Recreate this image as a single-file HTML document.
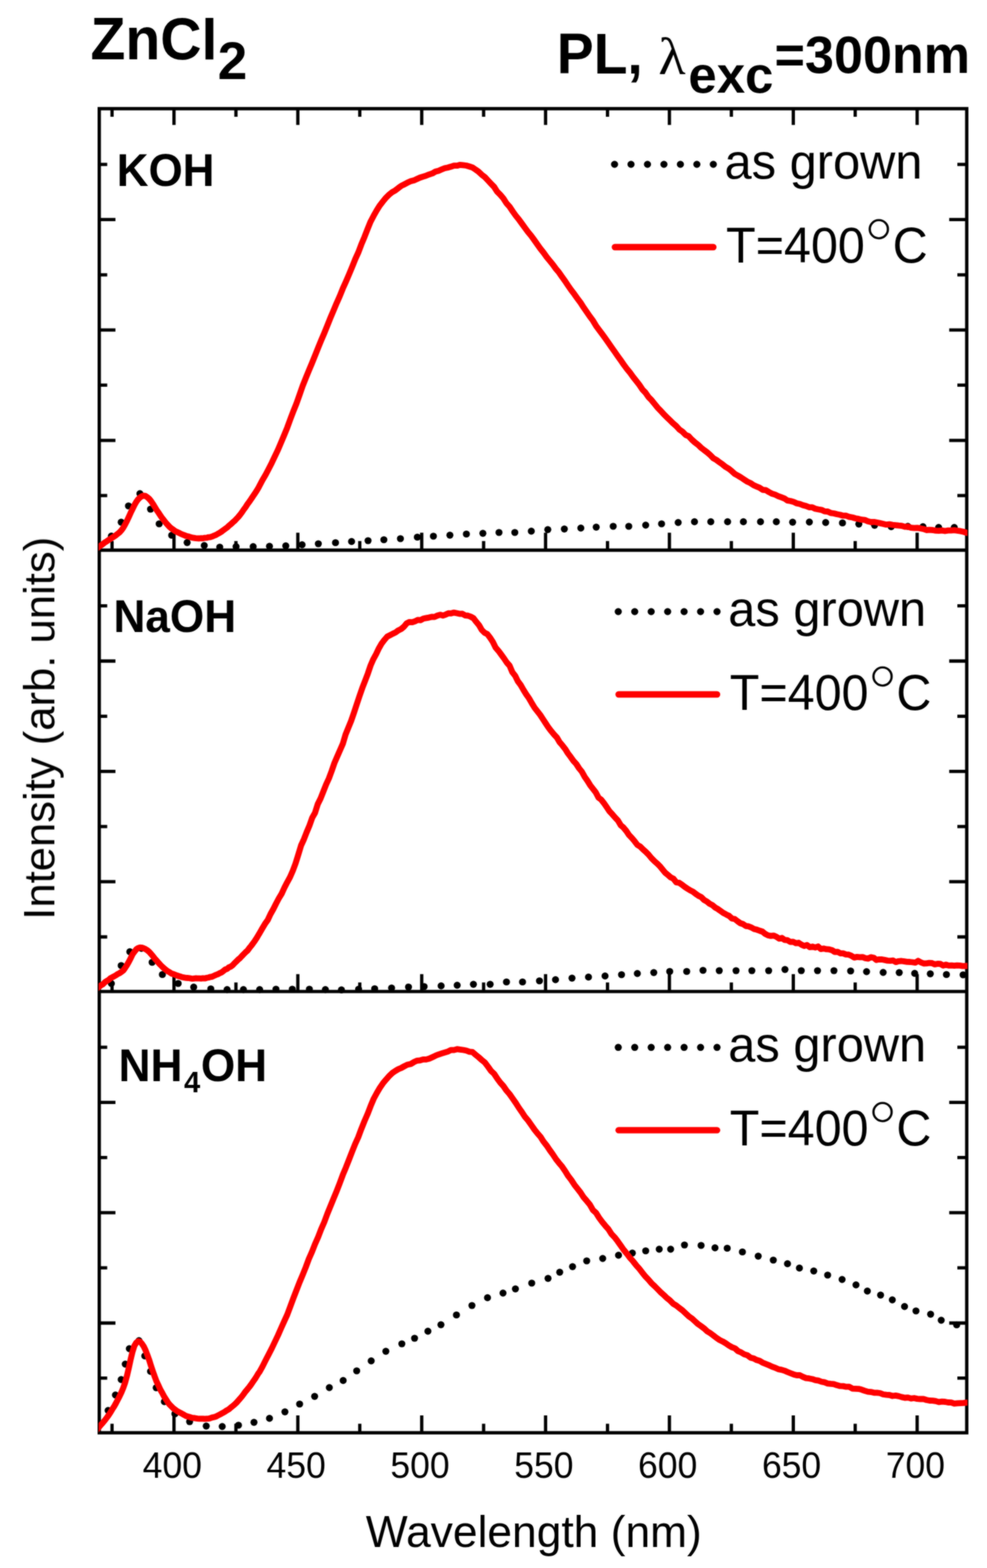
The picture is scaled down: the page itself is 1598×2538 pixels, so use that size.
<!DOCTYPE html>
<html lang="en">
<head>
<meta charset="utf-8">
<title>ZnCl2 PL spectra</title>
<style>
html,body{margin:0;padding:0;background:#fff;}
body{width:1598px;height:2538px;overflow:hidden;}
svg{display:block;}
text{white-space:pre;}
</style>
</head>
<body>
<svg width="1598" height="2538" viewBox="0 0 1598 2538">
<defs><filter id="soft" x="0" y="0" width="1598" height="2538" filterUnits="userSpaceOnUse" color-interpolation-filters="sRGB"><feGaussianBlur stdDeviation="0.8" result="b"/><feComposite in="b" in2="SourceGraphic" operator="arithmetic" k1="0" k2="0.6" k3="0.4" k4="0"/></filter></defs>
<rect width="1598" height="2538" fill="#fff"/>
<g filter="url(#soft)">
<g stroke="#000" stroke-width="5.4" fill="none">
<rect x="160.7" y="175.9" width="1404.5" height="2143.2"/>
<line x1="160.7" y1="890.5" x2="1565.2" y2="890.5"/>
<line x1="160.7" y1="1604.9" x2="1565.2" y2="1604.9"/>
</g>
<path d="M181.4 175.9v13.0M181.4 890.5v-14.7M181.4 1604.9v-14.7M181.4 2319.1v-14.7M281.7 175.9v26.4M281.7 890.5v-28.2M281.7 1604.9v-28.2M281.7 2319.1v-28.2M382.0 175.9v13.0M382.0 890.5v-14.7M382.0 1604.9v-14.7M382.0 2319.1v-14.7M482.2 175.9v26.4M482.2 890.5v-28.2M482.2 1604.9v-28.2M482.2 2319.1v-28.2M582.5 175.9v13.0M582.5 890.5v-14.7M582.5 1604.9v-14.7M582.5 2319.1v-14.7M682.8 175.9v26.4M682.8 890.5v-28.2M682.8 1604.9v-28.2M682.8 2319.1v-28.2M783.0 175.9v13.0M783.0 890.5v-14.7M783.0 1604.9v-14.7M783.0 2319.1v-14.7M883.3 175.9v26.4M883.3 890.5v-28.2M883.3 1604.9v-28.2M883.3 2319.1v-28.2M983.6 175.9v13.0M983.6 890.5v-14.7M983.6 1604.9v-14.7M983.6 2319.1v-14.7M1083.8 175.9v26.4M1083.8 890.5v-28.2M1083.8 1604.9v-28.2M1083.8 2319.1v-28.2M1184.1 175.9v13.0M1184.1 890.5v-14.7M1184.1 1604.9v-14.7M1184.1 2319.1v-14.7M1284.4 175.9v26.4M1284.4 890.5v-28.2M1284.4 1604.9v-28.2M1284.4 2319.1v-28.2M1384.6 175.9v13.0M1384.6 890.5v-14.7M1384.6 1604.9v-14.7M1384.6 2319.1v-14.7M1484.9 175.9v26.4M1484.9 890.5v-28.2M1484.9 1604.9v-28.2M1484.9 2319.1v-28.2M160.7 802.1h12.9M1565.2 802.1h-15.2M160.7 712.8h26.2M1565.2 712.8h-28.4M160.7 623.4h12.9M1565.2 623.4h-15.2M160.7 534.1h26.2M1565.2 534.1h-28.4M160.7 444.8h12.9M1565.2 444.8h-15.2M160.7 355.4h26.2M1565.2 355.4h-28.4M160.7 266.1h12.9M1565.2 266.1h-15.2M160.7 1516.5h12.9M1565.2 1516.5h-15.2M160.7 1427.2h26.2M1565.2 1427.2h-28.4M160.7 1337.9h12.9M1565.2 1337.9h-15.2M160.7 1248.6h26.2M1565.2 1248.6h-28.4M160.7 1159.3h12.9M1565.2 1159.3h-15.2M160.7 1070.0h26.2M1565.2 1070.0h-28.4M160.7 980.7h12.9M1565.2 980.7h-15.2M160.7 2230.7h12.9M1565.2 2230.7h-15.2M160.7 2141.5h26.2M1565.2 2141.5h-28.4M160.7 2052.2h12.9M1565.2 2052.2h-15.2M160.7 1962.9h26.2M1565.2 1962.9h-28.4M160.7 1873.6h12.9M1565.2 1873.6h-15.2M160.7 1784.4h26.2M1565.2 1784.4h-28.4M160.7 1695.1h12.9M1565.2 1695.1h-15.2" stroke="#000" stroke-width="5.3" fill="none"/>
<clipPath id="plotclip"><rect x="159.6" y="175.9" width="1406.8000000000002" height="2143.2"/></clipPath>
<g clip-path="url(#plotclip)">
<g fill="#000">
<circle cx="180.3" cy="867.7" r="5.7"/>
<circle cx="196.2" cy="845.3" r="5.7"/>
<circle cx="208.0" cy="818.9" r="5.7"/>
<circle cx="226.5" cy="799.0" r="5.7"/>
<circle cx="243.7" cy="824.1" r="5.7"/>
<circle cx="257.7" cy="847.9" r="5.7"/>
<circle cx="278.0" cy="866.4" r="5.7"/>
<circle cx="303.0" cy="878.2" r="5.7"/>
<circle cx="330.7" cy="883.0" r="5.7"/>
<circle cx="355.8" cy="885.6" r="5.7"/>
<circle cx="382.2" cy="884.8" r="5.7"/>
<circle cx="409.9" cy="884.8" r="5.7"/>
<circle cx="436.3" cy="884.3" r="5.7"/>
<circle cx="462.7" cy="883.5" r="5.7"/>
<circle cx="489.1" cy="881.7" r="5.7"/>
<circle cx="515.4" cy="880.1" r="5.7"/>
<circle cx="543.2" cy="878.4" r="5.7"/>
<circle cx="569.2" cy="876.5" r="5.7"/>
<circle cx="595.9" cy="875.1" r="5.7"/>
<circle cx="621.5" cy="873.6" r="5.7"/>
<circle cx="648.3" cy="871.9" r="5.7"/>
<circle cx="675.7" cy="869.4" r="5.7"/>
<circle cx="701.7" cy="867.9" r="5.7"/>
<circle cx="728.4" cy="866.2" r="5.7"/>
<circle cx="755.1" cy="864.4" r="5.7"/>
<circle cx="781.8" cy="863.3" r="5.7"/>
<circle cx="807.9" cy="861.9" r="5.7"/>
<circle cx="833.5" cy="861.9" r="5.7"/>
<circle cx="860.2" cy="859.8" r="5.7"/>
<circle cx="886.9" cy="857.3" r="5.7"/>
<circle cx="913.7" cy="856.2" r="5.7"/>
<circle cx="940.4" cy="854.8" r="5.7"/>
<circle cx="965.3" cy="853.3" r="5.7"/>
<circle cx="992.8" cy="851.9" r="5.7"/>
<circle cx="1018.0" cy="851.9" r="5.7"/>
<circle cx="1045.4" cy="850.0" r="5.7"/>
<circle cx="1071.1" cy="847.9" r="5.7"/>
<circle cx="1098.0" cy="845.8" r="5.7"/>
<circle cx="1124.4" cy="844.5" r="5.7"/>
<circle cx="1150.8" cy="844.5" r="5.7"/>
<circle cx="1178.0" cy="844.5" r="5.7"/>
<circle cx="1203.6" cy="844.5" r="5.7"/>
<circle cx="1231.3" cy="844.5" r="5.7"/>
<circle cx="1256.9" cy="844.5" r="5.7"/>
<circle cx="1283.3" cy="845.3" r="5.7"/>
<circle cx="1310.4" cy="845.0" r="5.7"/>
<circle cx="1336.8" cy="845.8" r="5.7"/>
<circle cx="1364.0" cy="846.4" r="5.7"/>
<circle cx="1390.5" cy="848.2" r="5.7"/>
<circle cx="1416.0" cy="850.3" r="5.7"/>
<circle cx="1442.9" cy="852.5" r="5.7"/>
<circle cx="1469.8" cy="852.0" r="5.7"/>
<circle cx="1494.3" cy="852.5" r="5.7"/>
<circle cx="1519.7" cy="853.8" r="5.7"/>
<circle cx="1545.0" cy="853.8" r="5.7"/>
<circle cx="180.3" cy="1592.0" r="5.7"/>
<circle cx="196.2" cy="1562.9" r="5.7"/>
<circle cx="210.2" cy="1540.5" r="5.7"/>
<circle cx="229.0" cy="1535.0" r="5.7"/>
<circle cx="246.3" cy="1557.6" r="5.7"/>
<circle cx="262.9" cy="1577.4" r="5.7"/>
<circle cx="288.5" cy="1591.9" r="5.7"/>
<circle cx="313.6" cy="1597.7" r="5.7"/>
<circle cx="341.3" cy="1600.6" r="5.7"/>
<circle cx="367.7" cy="1601.7" r="5.7"/>
<circle cx="394.1" cy="1601.7" r="5.7"/>
<circle cx="420.4" cy="1601.7" r="5.7"/>
<circle cx="446.8" cy="1601.1" r="5.7"/>
<circle cx="473.2" cy="1601.1" r="5.7"/>
<circle cx="500.9" cy="1601.1" r="5.7"/>
<circle cx="526.8" cy="1601.8" r="5.7"/>
<circle cx="552.8" cy="1602.2" r="5.7"/>
<circle cx="580.6" cy="1601.1" r="5.7"/>
<circle cx="606.6" cy="1600.4" r="5.7"/>
<circle cx="634.0" cy="1599.3" r="5.7"/>
<circle cx="661.4" cy="1597.6" r="5.7"/>
<circle cx="686.7" cy="1596.9" r="5.7"/>
<circle cx="714.2" cy="1595.8" r="5.7"/>
<circle cx="740.2" cy="1594.7" r="5.7"/>
<circle cx="766.5" cy="1593.3" r="5.7"/>
<circle cx="793.6" cy="1593.3" r="5.7"/>
<circle cx="820.0" cy="1589.4" r="5.7"/>
<circle cx="846.0" cy="1589.4" r="5.7"/>
<circle cx="873.4" cy="1587.6" r="5.7"/>
<circle cx="899.4" cy="1585.8" r="5.7"/>
<circle cx="926.1" cy="1583.3" r="5.7"/>
<circle cx="952.8" cy="1581.5" r="5.7"/>
<circle cx="979.6" cy="1579.8" r="5.7"/>
<circle cx="1006.3" cy="1577.6" r="5.7"/>
<circle cx="1031.9" cy="1575.8" r="5.7"/>
<circle cx="1058.5" cy="1574.3" r="5.7"/>
<circle cx="1084.3" cy="1572.4" r="5.7"/>
<circle cx="1111.8" cy="1572.4" r="5.7"/>
<circle cx="1138.2" cy="1570.6" r="5.7"/>
<circle cx="1164.5" cy="1571.1" r="5.7"/>
<circle cx="1191.7" cy="1571.1" r="5.7"/>
<circle cx="1217.3" cy="1571.1" r="5.7"/>
<circle cx="1244.5" cy="1571.1" r="5.7"/>
<circle cx="1270.9" cy="1569.2" r="5.7"/>
<circle cx="1297.3" cy="1571.1" r="5.7"/>
<circle cx="1323.6" cy="1571.1" r="5.7"/>
<circle cx="1350.2" cy="1571.1" r="5.7"/>
<circle cx="1377.2" cy="1571.6" r="5.7"/>
<circle cx="1403.0" cy="1572.7" r="5.7"/>
<circle cx="1429.9" cy="1574.0" r="5.7"/>
<circle cx="1455.9" cy="1574.2" r="5.7"/>
<circle cx="1480.9" cy="1575.5" r="5.7"/>
<circle cx="1506.2" cy="1576.3" r="5.7"/>
<circle cx="1532.3" cy="1577.4" r="5.7"/>
<circle cx="1559.3" cy="1577.9" r="5.7"/>
<circle cx="175.0" cy="2283.0" r="5.7"/>
<circle cx="186.9" cy="2258.0" r="5.7"/>
<circle cx="196.2" cy="2233.0" r="5.7"/>
<circle cx="202.8" cy="2208.0" r="5.7"/>
<circle cx="209.4" cy="2183.0" r="5.7"/>
<circle cx="225.0" cy="2170.0" r="5.7"/>
<circle cx="234.4" cy="2194.8" r="5.7"/>
<circle cx="243.7" cy="2219.8" r="5.7"/>
<circle cx="252.9" cy="2246.2" r="5.7"/>
<circle cx="266.1" cy="2268.7" r="5.7"/>
<circle cx="283.2" cy="2288.4" r="5.7"/>
<circle cx="307.0" cy="2301.1" r="5.7"/>
<circle cx="333.9" cy="2308.2" r="5.7"/>
<circle cx="359.8" cy="2309.0" r="5.7"/>
<circle cx="386.1" cy="2306.9" r="5.7"/>
<circle cx="411.2" cy="2302.2" r="5.7"/>
<circle cx="436.3" cy="2295.8" r="5.7"/>
<circle cx="461.3" cy="2285.3" r="5.7"/>
<circle cx="485.1" cy="2272.6" r="5.7"/>
<circle cx="509.4" cy="2260.2" r="5.7"/>
<circle cx="533.2" cy="2246.0" r="5.7"/>
<circle cx="555.6" cy="2234.5" r="5.7"/>
<circle cx="577.5" cy="2218.9" r="5.7"/>
<circle cx="601.0" cy="2202.8" r="5.7"/>
<circle cx="624.7" cy="2187.2" r="5.7"/>
<circle cx="650.6" cy="2175.1" r="5.7"/>
<circle cx="671.2" cy="2166.1" r="5.7"/>
<circle cx="692.8" cy="2154.8" r="5.7"/>
<circle cx="713.9" cy="2144.2" r="5.7"/>
<circle cx="739.0" cy="2128.4" r="5.7"/>
<circle cx="764.1" cy="2113.1" r="5.7"/>
<circle cx="789.3" cy="2100.5" r="5.7"/>
<circle cx="814.4" cy="2093.0" r="5.7"/>
<circle cx="834.5" cy="2086.2" r="5.7"/>
<circle cx="860.9" cy="2076.9" r="5.7"/>
<circle cx="887.3" cy="2069.2" r="5.7"/>
<circle cx="906.2" cy="2059.2" r="5.7"/>
<circle cx="927.0" cy="2050.2" r="5.7"/>
<circle cx="949.9" cy="2040.9" r="5.7"/>
<circle cx="975.8" cy="2037.0" r="5.7"/>
<circle cx="1001.4" cy="2031.7" r="5.7"/>
<circle cx="1023.8" cy="2028.3" r="5.7"/>
<circle cx="1045.4" cy="2024.6" r="5.7"/>
<circle cx="1067.3" cy="2022.0" r="5.7"/>
<circle cx="1085.8" cy="2022.0" r="5.7"/>
<circle cx="1108.2" cy="2015.1" r="5.7"/>
<circle cx="1135.1" cy="2015.9" r="5.7"/>
<circle cx="1157.6" cy="2019.8" r="5.7"/>
<circle cx="1177.4" cy="2020.4" r="5.7"/>
<circle cx="1202.0" cy="2026.4" r="5.7"/>
<circle cx="1227.6" cy="2033.3" r="5.7"/>
<circle cx="1252.0" cy="2039.6" r="5.7"/>
<circle cx="1275.0" cy="2045.5" r="5.7"/>
<circle cx="1294.3" cy="2052.5" r="5.7"/>
<circle cx="1317.5" cy="2057.3" r="5.7"/>
<circle cx="1340.0" cy="2063.9" r="5.7"/>
<circle cx="1363.4" cy="2071.0" r="5.7"/>
<circle cx="1385.9" cy="2079.7" r="5.7"/>
<circle cx="1404.3" cy="2089.7" r="5.7"/>
<circle cx="1425.7" cy="2096.3" r="5.7"/>
<circle cx="1444.7" cy="2104.0" r="5.7"/>
<circle cx="1464.5" cy="2114.8" r="5.7"/>
<circle cx="1483.0" cy="2121.9" r="5.7"/>
<circle cx="1506.7" cy="2127.2" r="5.7"/>
<circle cx="1523.9" cy="2137.0" r="5.7"/>
<circle cx="1548.9" cy="2144.4" r="5.7"/>
</g>
<g fill="none" stroke="#ff0000" stroke-width="9.8" stroke-linejoin="round" stroke-linecap="butt">
<path d="M154.6 889.1L160.6 884.8L163.6 882.7L166.6 880.5L169.6 878.2L172.6 876.3L175.6 874.2L178.6 872.3L181.6 870.3L184.6 868.5L187.6 866.4L190.6 864.0L193.6 861.6L196.6 858.3L199.6 854.2L202.6 848.9L205.6 843.0L208.6 836.6L211.6 829.9L214.6 823.8L217.6 817.6L220.6 812.3L223.6 808.2L226.6 805.3L229.6 803.2L232.6 802.3L235.6 802.9L238.6 804.8L241.6 807.5L244.6 811.1L247.6 815.6L250.6 820.5L253.6 825.5L256.6 829.8L259.6 834.4L262.6 838.7L265.6 842.4L268.6 846.3L271.6 849.6L274.6 852.9L277.6 855.3L280.6 857.3L283.6 859.6L286.6 861.1L289.6 862.4L292.6 864.0L295.6 865.2L298.6 866.4L301.6 867.6L304.6 868.2L307.6 869.3L310.6 870.1L313.6 870.6L316.6 871.1L319.6 871.3L322.6 871.5L325.6 871.1L328.6 871.3L331.6 870.6L334.6 870.4L337.6 869.6L340.6 869.3L343.6 868.4L346.6 867.0L349.6 865.9L352.6 864.1L355.6 862.4L358.6 860.5L361.6 858.2L364.6 856.1L367.6 853.9L370.6 851.0L373.6 848.6L376.6 845.8L379.6 843.3L382.6 840.2L385.6 837.0L388.6 833.4L391.6 829.4L394.6 824.9L397.6 820.9L400.6 816.2L403.6 812.1L406.6 807.8L409.6 803.2L412.6 798.9L415.6 794.3L418.6 789.3L420.0 786.6L425.0 776.9L430.0 768.5L435.0 759.0L440.0 749.2L445.0 738.6L450.0 728.2L455.0 716.3L460.0 704.5L465.0 692.3L470.0 678.6L475.0 665.5L480.0 653.1L485.0 639.0L490.0 624.6L495.0 612.1L500.0 599.8L505.0 588.0L510.0 575.6L515.0 563.2L520.0 550.9L525.0 539.2L530.0 526.8L535.0 514.4L540.0 502.6L545.0 490.7L550.0 479.5L555.0 467.1L560.0 456.0L565.0 444.4L570.0 432.4L575.0 419.9L580.0 408.9L585.0 395.7L590.0 383.8L595.0 370.9L600.0 358.7L605.0 349.2L610.0 340.3L615.0 332.4L620.0 326.0L625.0 319.9L630.0 315.0L635.0 311.0L640.0 308.2L645.0 304.3L650.0 300.6L655.0 298.3L660.0 295.4L665.0 293.3L670.0 292.1L675.0 289.8L680.0 287.5L685.0 285.9L690.0 284.3L695.0 282.3L700.0 280.7L705.0 277.7L710.0 276.4L715.0 274.3L720.0 272.3L725.0 271.2L730.0 269.8L735.0 268.1L740.0 268.2L745.0 266.8L750.0 267.4L755.0 268.0L760.0 269.5L765.0 271.2L770.0 274.5L775.0 278.1L780.0 282.8L785.0 286.6L790.0 292.0L795.0 297.3L800.0 302.5L805.0 310.3L810.0 315.3L815.0 321.1L820.0 329.0L825.0 334.5L830.0 342.0L835.0 349.0L840.0 355.1L845.0 362.0L850.0 368.8L855.0 375.7L860.0 381.7L865.0 388.5L870.0 395.6L875.0 402.6L880.0 408.9L885.0 415.9L890.0 422.0L895.0 428.1L900.0 435.0L905.0 440.9L910.0 448.2L915.0 455.1L920.0 462.6L925.0 469.8L930.0 476.3L935.0 483.3L940.0 490.0L945.0 497.8L950.0 505.1L955.0 512.3L960.0 518.9L965.0 527.3L970.0 534.1L975.0 540.7L980.0 547.6L985.0 554.8L990.0 562.0L995.0 569.0L1000.0 576.2L1005.0 583.2L1010.0 590.4L1015.0 597.1L1020.0 603.2L1025.0 610.1L1030.0 616.3L1035.0 622.7L1040.0 630.3L1045.0 635.5L1050.0 642.8L1055.0 647.8L1060.0 654.0L1065.0 660.1L1070.0 665.2L1075.0 670.8L1080.0 675.7L1085.0 680.5L1090.0 685.4L1095.0 689.8L1100.0 695.3L1105.0 698.8L1110.0 703.9L1115.0 706.1L1120.0 711.5L1125.0 716.0L1130.0 719.8L1135.0 724.6L1140.0 728.5L1145.0 732.2L1150.0 736.6L1155.0 741.7L1160.0 744.5L1165.0 748.3L1170.0 751.8L1175.0 755.8L1180.0 758.7L1185.0 762.8L1190.0 767.3L1195.0 770.0L1200.0 773.0L1205.0 776.3L1210.0 779.6L1215.0 781.9L1220.0 785.3L1225.0 787.5L1230.0 789.6L1235.0 792.8L1240.0 793.4L1245.0 796.5L1250.0 799.1L1255.0 800.7L1260.0 803.1L1265.0 804.9L1270.0 806.8L1275.0 810.2L1280.0 811.0L1285.0 812.4L1290.0 814.7L1295.0 815.7L1300.0 817.7L1305.0 819.0L1310.0 821.0L1315.0 821.1L1320.0 823.5L1325.0 824.5L1330.0 825.3L1335.0 827.6L1340.0 828.0L1345.0 830.3L1350.0 831.0L1355.0 832.3L1360.0 833.2L1365.0 834.7L1370.0 834.7L1375.0 836.7L1380.0 837.5L1385.0 839.0L1390.0 839.9L1395.0 841.2L1400.0 841.6L1405.0 843.8L1410.0 845.0L1415.0 844.8L1420.0 845.8L1425.0 846.9L1430.0 848.1L1435.0 849.2L1440.0 848.6L1445.0 849.6L1450.0 850.1L1455.0 850.7L1460.0 851.1L1465.0 852.6L1470.0 852.5L1475.0 854.2L1480.0 854.6L1485.0 854.4L1490.0 855.2L1495.0 856.2L1500.0 858.0L1505.0 857.7L1510.0 858.0L1515.0 858.9L1520.0 859.2L1525.0 858.6L1530.0 859.5L1535.0 858.7L1540.0 858.7L1545.0 858.2L1550.0 859.0L1555.0 859.7L1560.0 860.8L1564.8 862.3L1570.8 863.2"/>
<path d="M154.6 1601.8L160.6 1597.2L163.6 1594.7L166.6 1593.1L169.6 1590.1L172.6 1588.0L175.6 1586.3L178.6 1583.6L181.6 1581.9L184.6 1580.4L187.6 1578.6L190.6 1576.7L193.6 1575.2L196.6 1573.2L199.6 1570.9L202.6 1566.6L205.6 1562.0L208.6 1556.8L211.6 1551.0L214.6 1544.6L217.6 1540.6L220.6 1536.7L223.6 1534.7L226.6 1533.7L229.6 1533.8L232.6 1534.9L235.6 1536.3L238.6 1538.2L241.6 1540.8L244.6 1544.1L247.6 1547.7L250.6 1551.6L253.6 1554.8L256.6 1558.4L259.6 1561.6L262.6 1564.6L265.6 1567.4L268.6 1569.8L271.6 1572.2L274.6 1573.7L277.6 1575.8L280.6 1576.7L283.6 1577.8L286.6 1579.0L289.6 1580.0L292.6 1580.8L295.6 1581.8L298.6 1582.4L301.6 1582.8L304.6 1583.0L307.6 1583.4L310.6 1584.1L313.6 1583.9L316.6 1583.5L319.6 1583.7L322.6 1583.6L325.6 1583.9L328.6 1583.3L331.6 1583.7L334.6 1582.8L337.6 1582.2L340.6 1581.3L343.6 1580.8L346.6 1579.4L349.6 1578.0L352.6 1576.9L355.6 1575.2L358.6 1573.9L361.6 1571.8L364.6 1569.3L367.6 1568.4L370.6 1565.8L373.6 1564.6L376.6 1562.3L379.6 1559.2L382.6 1556.2L385.6 1553.2L388.6 1550.8L391.6 1547.5L394.6 1544.4L397.6 1541.3L400.6 1538.7L403.6 1534.7L406.6 1531.0L409.6 1527.0L412.6 1522.8L415.6 1518.3L418.6 1513.1L420.0 1510.9L424.5 1503.0L429.0 1495.4L433.5 1489.1L438.0 1479.5L442.5 1471.5L447.0 1462.5L451.5 1454.0L456.0 1446.6L460.5 1436.8L465.0 1428.1L469.5 1419.9L474.0 1409.6L478.5 1397.6L483.0 1383.2L487.5 1368.4L492.0 1358.6L496.5 1347.0L501.0 1336.3L505.5 1323.6L510.0 1315.7L514.5 1301.5L519.0 1292.5L523.5 1281.1L528.0 1269.7L532.5 1260.0L537.0 1247.9L541.5 1234.9L546.0 1224.5L550.5 1214.3L555.0 1204.1L559.5 1188.8L564.0 1177.9L568.5 1166.9L573.0 1153.8L577.5 1140.3L582.0 1126.7L586.5 1113.8L591.0 1102.2L595.5 1090.4L600.0 1077.1L604.5 1066.8L609.0 1058.7L613.5 1049.2L618.0 1041.4L622.5 1035.6L627.0 1030.4L631.5 1028.1L636.0 1025.7L640.5 1023.6L645.0 1020.3L649.5 1018.1L654.0 1014.4L658.5 1008.9L663.0 1006.8L667.5 1007.2L672.0 1005.6L676.5 1003.4L681.0 1003.8L685.5 1001.2L690.0 1000.4L694.5 999.6L699.0 998.4L703.5 998.6L708.0 996.5L712.5 995.1L717.0 996.3L721.5 994.8L726.0 992.7L730.5 992.8L735.0 991.6L739.5 992.5L744.0 993.6L748.5 993.5L753.0 996.1L757.5 996.5L762.0 998.1L766.5 1000.6L771.0 1006.4L775.5 1011.8L780.0 1019.6L784.5 1024.1L789.0 1026.4L793.5 1032.3L798.0 1039.1L802.5 1048.3L807.0 1053.4L811.5 1059.5L816.0 1065.6L820.5 1072.4L825.0 1077.4L829.5 1088.0L834.0 1093.7L838.5 1102.8L843.0 1108.8L847.5 1116.6L852.0 1123.9L856.5 1130.3L861.0 1138.1L865.5 1145.5L870.0 1151.3L874.5 1157.0L879.0 1163.9L883.5 1170.8L888.0 1177.6L892.5 1183.4L897.0 1188.8L901.5 1193.6L906.0 1201.2L910.5 1206.4L915.0 1212.2L919.5 1219.4L924.0 1225.3L928.5 1231.6L933.0 1236.5L937.5 1243.5L942.0 1249.0L946.5 1257.2L951.0 1263.6L955.5 1270.9L960.0 1276.7L964.5 1282.5L969.0 1291.1L973.5 1294.4L978.0 1300.2L982.5 1306.7L987.0 1313.4L991.5 1318.2L996.0 1323.4L1000.5 1328.1L1005.0 1335.8L1009.5 1339.6L1014.0 1345.0L1018.5 1351.7L1023.0 1356.4L1027.5 1361.7L1032.0 1367.6L1036.5 1370.3L1041.0 1374.8L1045.5 1378.7L1050.0 1383.2L1054.5 1388.8L1059.0 1393.3L1063.5 1397.3L1068.0 1401.7L1072.5 1407.2L1077.0 1412.6L1081.5 1416.3L1086.0 1420.2L1090.5 1422.4L1095.0 1428.2L1099.5 1428.9L1104.0 1431.8L1108.5 1435.3L1113.0 1438.3L1117.5 1441.1L1122.0 1443.3L1126.5 1446.9L1131.0 1450.0L1135.5 1452.2L1140.0 1456.7L1144.5 1459.2L1149.0 1462.9L1153.5 1465.1L1158.0 1469.0L1162.5 1471.6L1167.0 1474.7L1171.5 1477.9L1176.0 1480.3L1180.5 1482.5L1185.0 1486.7L1189.5 1487.5L1194.0 1491.0L1198.5 1494.3L1203.0 1495.7L1207.5 1498.8L1212.0 1499.4L1216.5 1501.3L1221.0 1503.7L1225.5 1504.8L1230.0 1506.5L1234.5 1508.0L1239.0 1511.7L1243.5 1514.0L1248.0 1514.9L1252.5 1514.3L1257.0 1516.2L1261.5 1519.3L1266.0 1518.2L1270.5 1521.4L1275.0 1521.9L1279.5 1524.6L1284.0 1524.4L1288.5 1526.6L1293.0 1526.0L1297.5 1529.0L1302.0 1531.1L1306.5 1529.7L1311.0 1533.1L1315.5 1532.2L1320.0 1533.6L1324.5 1532.0L1329.0 1536.2L1333.5 1535.3L1338.0 1536.4L1342.5 1536.7L1347.0 1537.9L1351.5 1540.9L1356.0 1540.6L1360.5 1543.0L1365.0 1543.2L1369.5 1544.9L1374.0 1545.2L1378.5 1547.1L1383.0 1549.9L1387.5 1548.9L1392.0 1549.4L1396.5 1549.1L1401.0 1550.9L1405.5 1551.7L1410.0 1549.4L1414.5 1550.2L1419.0 1553.8L1423.5 1552.8L1428.0 1553.0L1432.5 1553.9L1437.0 1554.9L1441.5 1555.1L1446.0 1554.7L1450.5 1557.2L1455.0 1555.8L1459.5 1555.5L1464.0 1556.2L1468.5 1556.9L1473.0 1557.0L1477.5 1557.5L1482.0 1558.2L1486.5 1555.3L1491.0 1557.7L1495.5 1559.5L1500.0 1559.4L1504.5 1558.6L1509.0 1559.0L1513.5 1560.9L1518.0 1560.0L1522.5 1560.2L1527.0 1562.9L1531.5 1561.4L1536.0 1562.9L1540.5 1562.7L1545.0 1563.2L1549.5 1562.6L1554.0 1562.9L1558.5 1563.6L1563.0 1563.5L1564.8 1563.4L1570.8 1563.6"/>
<path d="M154.6 2316.8L160.6 2309.6L163.6 2306.1L166.6 2302.7L169.6 2299.1L172.6 2295.1L175.6 2291.0L178.6 2286.5L181.6 2281.4L184.6 2276.8L187.6 2271.5L190.6 2265.8L193.6 2260.0L196.6 2253.6L199.6 2246.3L202.6 2237.8L205.6 2226.8L208.6 2213.8L211.6 2200.0L214.6 2187.7L217.6 2178.3L220.6 2173.4L223.6 2171.0L226.6 2171.5L229.6 2174.8L232.6 2179.2L235.6 2185.4L238.6 2193.3L241.6 2201.5L244.6 2211.2L247.6 2220.0L250.6 2228.5L253.6 2236.4L256.6 2242.7L259.6 2249.3L262.6 2254.5L265.6 2260.1L268.6 2264.9L271.6 2269.7L274.6 2273.6L277.6 2276.5L280.6 2279.5L283.6 2281.7L286.6 2283.9L289.6 2285.6L292.6 2287.1L295.6 2288.7L298.6 2290.5L301.6 2292.1L304.6 2292.9L307.6 2293.7L310.6 2294.9L313.6 2295.2L316.6 2295.7L319.6 2296.1L322.6 2296.3L325.6 2296.4L328.6 2296.3L331.6 2296.6L334.6 2296.3L337.6 2296.2L340.6 2295.4L343.6 2294.4L346.6 2293.8L349.6 2292.9L352.6 2291.3L355.6 2289.7L358.6 2288.1L361.6 2286.4L364.6 2284.7L367.6 2282.7L370.6 2281.0L373.6 2278.4L376.6 2276.0L379.6 2273.5L382.6 2270.7L385.6 2267.2L388.6 2263.9L391.6 2260.4L394.6 2256.4L397.6 2252.2L400.6 2248.7L403.6 2245.0L406.6 2241.0L409.6 2236.6L412.6 2232.3L415.6 2227.5L418.6 2222.5L420.0 2220.8L425.0 2211.9L430.0 2201.9L435.0 2192.2L440.0 2182.5L445.0 2172.0L450.0 2161.5L455.0 2150.1L460.0 2138.9L465.0 2128.1L470.0 2114.7L475.0 2101.2L480.0 2088.4L485.0 2075.5L490.0 2063.7L495.0 2051.2L500.0 2037.8L505.0 2026.6L510.0 2013.7L515.0 2002.5L520.0 1989.5L525.0 1978.1L530.0 1964.6L535.0 1952.3L540.0 1940.2L545.0 1928.1L550.0 1915.3L555.0 1901.7L560.0 1889.8L565.0 1877.1L570.0 1864.3L575.0 1851.7L580.0 1840.7L585.0 1827.3L590.0 1814.9L595.0 1803.4L600.0 1790.4L605.0 1778.5L610.0 1769.2L615.0 1760.7L620.0 1753.4L625.0 1747.4L630.0 1741.8L635.0 1736.9L640.0 1733.5L645.0 1730.5L650.0 1728.4L655.0 1725.6L660.0 1723.2L665.0 1722.2L670.0 1719.2L675.0 1716.8L680.0 1716.4L685.0 1714.8L690.0 1714.9L695.0 1713.5L700.0 1711.2L705.0 1708.8L710.0 1706.8L715.0 1705.2L720.0 1703.6L725.0 1702.1L730.0 1699.7L735.0 1699.6L740.0 1698.2L745.0 1698.8L750.0 1699.5L755.0 1700.5L760.0 1702.4L765.0 1702.9L770.0 1707.2L775.0 1711.3L780.0 1715.7L785.0 1719.8L790.0 1726.4L795.0 1733.4L800.0 1738.0L805.0 1745.6L810.0 1752.4L815.0 1757.9L820.0 1765.1L825.0 1770.9L830.0 1778.0L835.0 1785.1L840.0 1793.0L845.0 1800.1L850.0 1807.8L855.0 1813.6L860.0 1820.7L865.0 1827.9L870.0 1834.3L875.0 1839.9L880.0 1847.8L885.0 1854.1L890.0 1861.5L895.0 1868.4L900.0 1875.9L905.0 1882.3L910.0 1888.2L915.0 1895.5L920.0 1903.6L925.0 1910.0L930.0 1917.7L935.0 1924.1L940.0 1930.4L945.0 1938.1L950.0 1943.8L955.0 1949.8L960.0 1958.7L965.0 1963.2L970.0 1971.1L975.0 1977.9L980.0 1983.9L985.0 1989.5L990.0 1997.4L995.0 2002.6L1000.0 2009.1L1005.0 2016.1L1010.0 2023.2L1015.0 2029.4L1020.0 2036.0L1025.0 2041.6L1030.0 2047.9L1035.0 2053.5L1040.0 2059.9L1045.0 2066.2L1050.0 2071.4L1055.0 2077.2L1060.0 2081.9L1065.0 2086.9L1070.0 2092.0L1075.0 2096.4L1080.0 2101.2L1085.0 2105.2L1090.0 2110.2L1095.0 2113.2L1100.0 2117.3L1105.0 2121.0L1110.0 2125.8L1115.0 2130.4L1120.0 2133.9L1125.0 2138.5L1130.0 2143.0L1135.0 2146.5L1140.0 2150.2L1145.0 2154.8L1150.0 2157.9L1155.0 2161.6L1160.0 2165.5L1165.0 2168.9L1170.0 2171.3L1175.0 2174.3L1180.0 2177.8L1185.0 2180.6L1190.0 2182.5L1195.0 2187.0L1200.0 2189.1L1205.0 2192.1L1210.0 2193.6L1215.0 2197.4L1220.0 2198.7L1225.0 2201.3L1230.0 2202.8L1235.0 2205.7L1240.0 2207.7L1245.0 2209.8L1250.0 2212.1L1255.0 2213.8L1260.0 2216.2L1265.0 2217.1L1270.0 2218.6L1275.0 2220.8L1280.0 2222.8L1285.0 2224.7L1290.0 2226.0L1295.0 2226.0L1300.0 2228.6L1305.0 2230.6L1310.0 2231.2L1315.0 2232.2L1320.0 2233.9L1325.0 2234.7L1330.0 2236.5L1335.0 2237.4L1340.0 2239.3L1345.0 2239.9L1350.0 2240.3L1355.0 2242.1L1360.0 2243.4L1365.0 2243.6L1370.0 2244.7L1375.0 2244.7L1380.0 2247.6L1385.0 2247.8L1390.0 2248.1L1395.0 2249.3L1400.0 2251.1L1405.0 2252.6L1410.0 2253.1L1415.0 2254.3L1420.0 2254.3L1425.0 2255.0L1430.0 2257.0L1435.0 2257.6L1440.0 2258.0L1445.0 2259.5L1450.0 2258.9L1455.0 2259.9L1460.0 2261.4L1465.0 2262.5L1470.0 2262.1L1475.0 2263.6L1480.0 2263.0L1485.0 2264.1L1490.0 2264.5L1495.0 2264.3L1500.0 2266.0L1505.0 2267.0L1510.0 2267.1L1515.0 2267.9L1520.0 2269.4L1525.0 2268.6L1530.0 2269.0L1535.0 2270.0L1540.0 2270.1L1545.0 2271.8L1550.0 2271.4L1555.0 2271.1L1560.0 2270.9L1564.8 2270.4L1570.8 2270.3"/>
</g>
</g>
<g font-family="'Liberation Sans', Arial, Helvetica, sans-serif" fill="#000">
<line x1="995" y1="266" x2="1156" y2="266" stroke="#000" stroke-width="11.6" stroke-linecap="round" stroke-dasharray="0 26.65"/>
<line x1="995.5" y1="400" x2="1155" y2="400" stroke="#f00" stroke-width="10.3" stroke-linecap="round"/>
<text x="1173" y="288.5" font-size="79">as grown</text>
<g><text transform="translate(1175.5 425) scale(1.0 1.04)" font-size="78.5">T=400</text><text x="1397.1" y="443.6" font-size="129.5" stroke="#fff" stroke-width="3.1">°</text><text transform="translate(1445.3 425) scale(1.0 1.04)" font-size="78.5">C</text></g>
<line x1="1001" y1="990" x2="1162" y2="990" stroke="#000" stroke-width="11.6" stroke-linecap="round" stroke-dasharray="0 26.65"/>
<line x1="1001.5" y1="1124" x2="1161" y2="1124" stroke="#f00" stroke-width="10.3" stroke-linecap="round"/>
<text x="1179" y="1012.5" font-size="79">as grown</text>
<g><text transform="translate(1181.5 1149) scale(1.0 1.04)" font-size="78.5">T=400</text><text x="1403.1" y="1167.6" font-size="129.5" stroke="#fff" stroke-width="3.1">°</text><text transform="translate(1451.3 1149) scale(1.0 1.04)" font-size="78.5">C</text></g>
<line x1="1001" y1="1695.3" x2="1162" y2="1695.3" stroke="#000" stroke-width="11.6" stroke-linecap="round" stroke-dasharray="0 26.65"/>
<line x1="1001.5" y1="1829.3" x2="1161" y2="1829.3" stroke="#f00" stroke-width="10.3" stroke-linecap="round"/>
<text x="1179" y="1717.8" font-size="79">as grown</text>
<g><text transform="translate(1181.5 1854.3) scale(1.0 1.04)" font-size="78.5">T=400</text><text x="1403.1" y="1872.9" font-size="129.5" stroke="#fff" stroke-width="3.1">°</text><text transform="translate(1451.3 1854.3) scale(1.0 1.04)" font-size="78.5">C</text></g>
<g font-weight="bold">
<g><text transform="translate(146.5 95.5) scale(1.0 1.04)" font-size="92.5">ZnC</text><text x="326.3" y="95.5" font-size="92.5">l</text><text x="352.5" y="128" font-size="86">2</text></g>
<g><text transform="translate(901.5 118.8) scale(1.0 1.04)" font-size="89.5">PL, </text><text transform="translate(1066 119.5) scale(1.08 1.0)" font-size="84" font-weight="normal" font-family="'Liberation Serif', 'DejaVu Serif', serif">λ</text><text x="1114.5" y="149.8" font-size="82.5">exc</text><text transform="translate(1254 118.3) scale(1.0 1.012)" font-size="84.4">=300nm</text></g>
<text transform="translate(189 301) scale(1.0 1.04)" font-size="71.2">KOH</text>
<text transform="translate(183.7 1023.3) scale(1.0 1.04)" font-size="71.5">NaOH</text>
<g><text transform="translate(192 1750.2) scale(1.0 1.04)" font-size="71.5">NH</text><text transform="translate(298 1768.2) scale(1.0 1.04)" font-size="47">4</text><text transform="translate(325.2 1750.2) scale(1.0 1.04)" font-size="71.5">OH</text></g>
</g>
<text transform="translate(278.9 2391.6) scale(1.0 1.04)" font-size="57.5" text-anchor="middle">400</text>
<text transform="translate(479.4 2391.6) scale(1.0 1.04)" font-size="57.5" text-anchor="middle">450</text>
<text transform="translate(680.0 2391.6) scale(1.0 1.04)" font-size="57.5" text-anchor="middle">500</text>
<text transform="translate(880.5 2391.6) scale(1.0 1.04)" font-size="57.5" text-anchor="middle">550</text>
<text transform="translate(1081.0 2391.6) scale(1.0 1.04)" font-size="57.5" text-anchor="middle">600</text>
<text transform="translate(1281.6 2391.6) scale(1.0 1.04)" font-size="57.5" text-anchor="middle">650</text>
<text transform="translate(1482.1 2391.6) scale(1.0 1.04)" font-size="57.5" text-anchor="middle">700</text>
<text x="864.3" y="2504" font-size="71.8" text-anchor="middle">Wavelength (nm)</text>
<text transform="translate(88 1178.8) rotate(-90)" font-size="70.6" text-anchor="middle">Intensity (arb. units)</text>
</g>
</g>
</svg>
</body>
</html>
